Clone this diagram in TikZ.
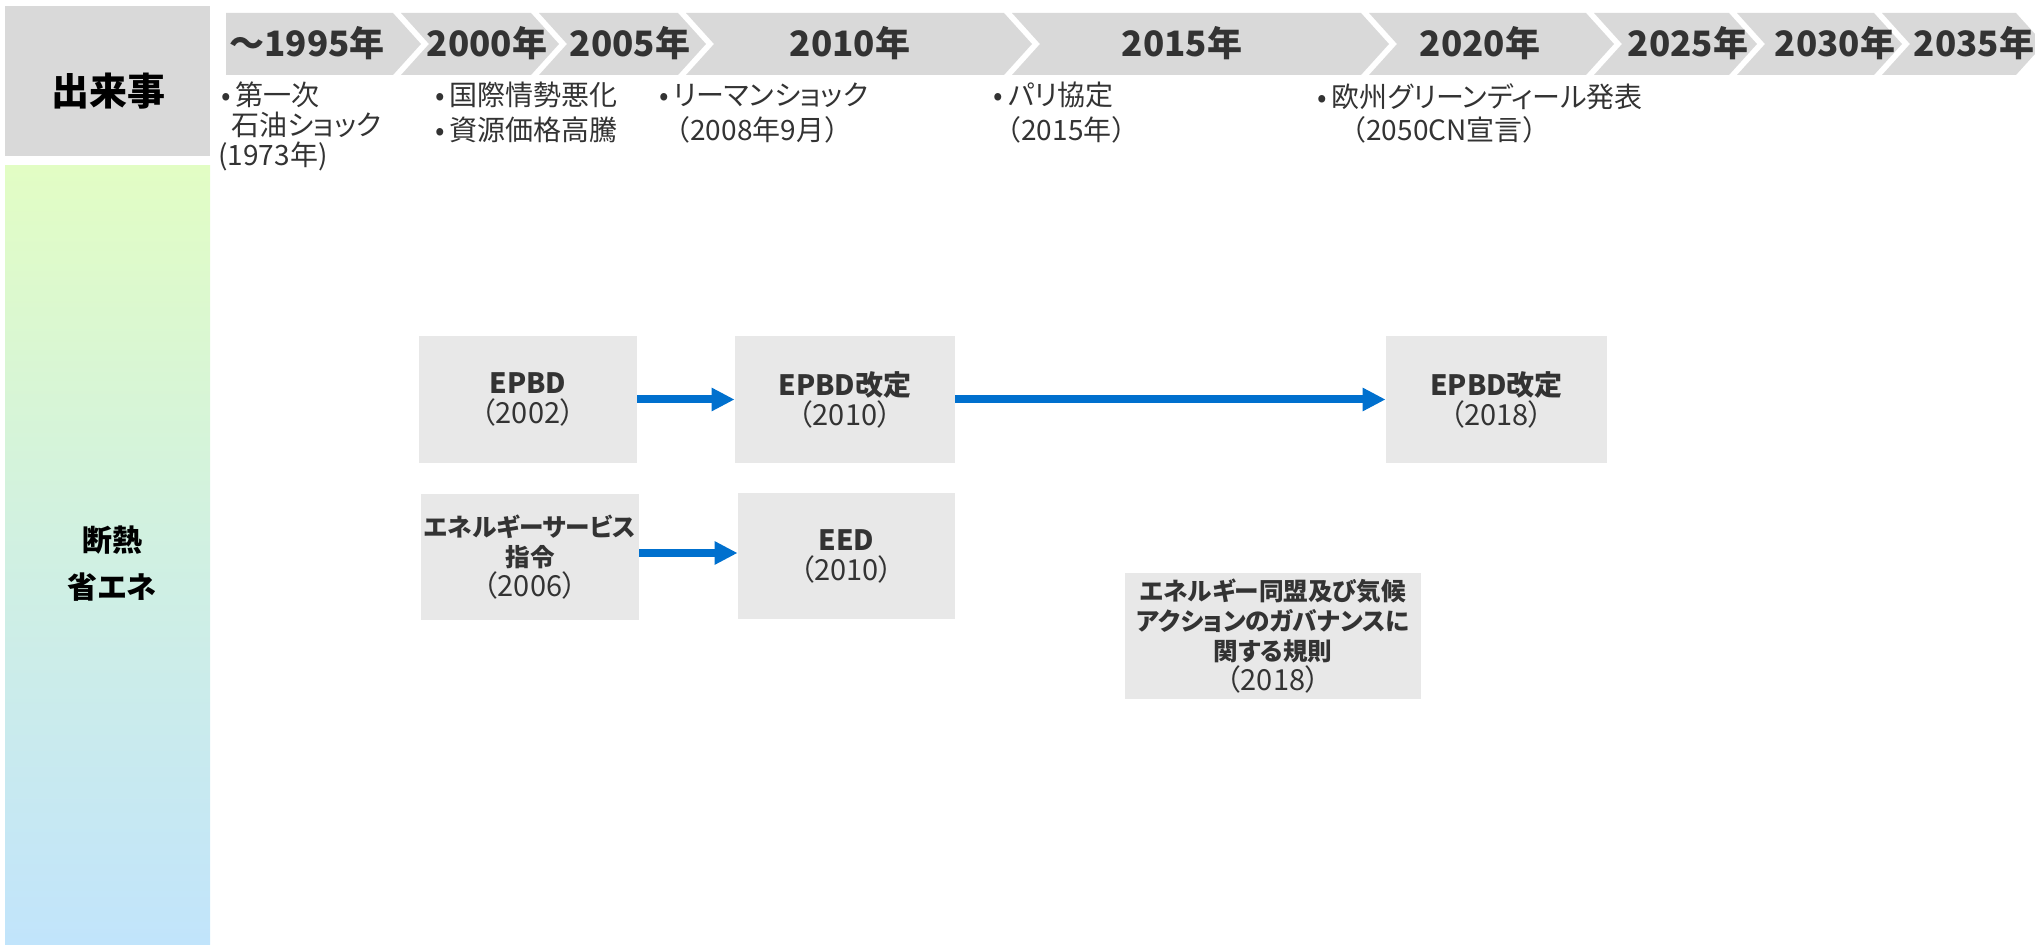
\documentclass[tikz,border=0pt]{standalone}
\usepackage{fontspec}
\setmainfont{Noto Sans CJK JP}[RawFeature={+palt}]
\newfontfamily\fwfont{Noto Sans CJK JP}
\usetikzlibrary{arrows.meta}
\definecolor{hdrgray}{HTML}{D9D9D9}
\definecolor{boxgray}{HTML}{E8E8E8}
\definecolor{txtgray}{HTML}{333333}
\definecolor{arrblue}{RGB}{0,112,206}
\definecolor{grtop}{RGB}{226,253,196}
\definecolor{grmid}{RGB}{208,240,226}
\definecolor{grbot}{RGB}{193,228,251}
\newcommand{\chevseg}[2]{\fill[hdrgray] (#1,13) -- (#2,13) -- ({#2+28},44) -- (#2,75) -- (#1,75) -- ({#1+28},44) -- cycle;}
\newcommand{\bul}{•\hspace{2.5pt}}
\newcommand{\lat}[1]{{\fontsize{14}{15}\selectfont\bfseries #1}}
\newcommand{\kan}[1]{{\fontsize{12.3}{15}\selectfont\bfseries #1}}
\newcommand{\yr}[1]{{\fontsize{14.5}{15}\selectfont #1}}
\begin{document}
\begin{tikzpicture}[x=0.5pt,y=-0.5pt,
  yearlbl/.style={inner sep=0pt, anchor=base, text=txtgray, font=\fontsize{17.5}{20}\selectfont\bfseries},
  evtxt/.style={inner sep=0pt, anchor=base west, text=txtgray, font=\fontsize{14}{16}\selectfont},
  evbox/.style={fill=boxgray, inner sep=0pt, align=center, text=txtgray, font=\fontsize{13}{15}\selectfont},
  flowarrow/.style={draw=arrblue, line width=4pt, -{Triangle[length=11.5pt,width=11pt]}, arrblue}
]
\useasboundingbox (0,0) rectangle (2035,945);
\clip (0,0) rectangle (2035,945);

% left column
\fill[hdrgray] (5,6) rectangle (210,156);
\node[inner sep=0pt, font=\fontsize{19}{22}\selectfont\bfseries] (title) at (108,91) {出来事};
\shade[top color=grtop, bottom color=grbot, middle color=grmid] (5,166) rectangle (210,945);
\node[inner sep=0pt, font=\fontsize{15}{18}\selectfont\bfseries] (cat1) at (112,540) {断熱};
\node[inner sep=0pt, font=\fontsize{15}{18}\selectfont\bfseries] (cat2) at (112,587) {省エネ};

% timeline chevrons
\fill[hdrgray] (226,13) -- (393,13) -- (421,44) -- (393,75) -- (226,75) -- cycle;
\chevseg{401}{531}
\chevseg{539}{678}
\chevseg{686}{1004}
\chevseg{1012}{1361}
\chevseg{1369}{1586}
\chevseg{1594}{1729}
\chevseg{1737}{1874}
\chevseg{1882}{2016}

\node[yearlbl] (y1995) at (307,57) {～1995年};
\node[yearlbl] (y2000) at (487,57) {2000年};
\node[yearlbl] (y2005) at (630,57) {2005年};
\node[yearlbl] (y2010) at (850,57) {2010年};
\node[yearlbl] (y2015) at (1182,57) {2015年};
\node[yearlbl] (y2020) at (1480,57) {2020年};
\node[yearlbl] (y2025) at (1688,57) {2025年};
\node[yearlbl] (y2030) at (1835,57) {2030年};
\node[yearlbl] (y2035) at (1974,57) {2035年};

% events
\node[evtxt] (e1a) at (221,106) {\bul 第一次};
\node[evtxt] (e1b) at (231,136) {石油ショック};
\node[evtxt] (e1c) at (218,166) {(1973年)};
\node[evtxt] (e2a) at (435,106) {\bul 国際情勢悪化};
\node[evtxt] (e2b) at (435,141) {\bul 資源価格高騰};
\node[evtxt] (e3a) at (659,106) {\bul リーマンショック};
\node[evtxt] (e3b) at (662,141) {{\fwfont （}2008年9月{\fwfont ）}};
\node[evtxt] (e4a) at (993,106) {\bul パリ協定};
\node[evtxt] (e4b) at (993,141) {{\fwfont （}2015年{\fwfont ）}};
\node[evtxt] (e5a) at (1317,108) {\bul 欧州グリーンディール発表};
\node[evtxt] (e5b) at (1338,141) {{\fwfont （}2050CN宣言{\fwfont ）}};

% boxes
\node[evbox, minimum width=109pt, minimum height=63.5pt] (epbd) at (528,399.5) {\lat{EPBD}\\\yr{（2002）}};
\node[evbox, minimum width=110pt, minimum height=63.5pt] (epbd10) at (845,399.5) {\lat{EPBD改定}\\\yr{（2010）}};
\node[evbox, minimum width=110.5pt, minimum height=63.5pt] (epbd18) at (1496.5,399.5) {\lat{EPBD改定}\\\yr{（2018）}};
\node[evbox, minimum width=109pt, minimum height=63pt] (esd) at (530,557) {\kan{エネルギーサービス}\\\kan{指令}\\\yr{（2006）}};
\node[evbox, minimum width=108.5pt, minimum height=63pt] (eed) at (846.5,556) {\lat{EED}\\\yr{（2010）}};
\node[evbox, minimum width=148pt, minimum height=63pt] (gov) at (1273,636) {\kan{エネルギー同盟及び気候}\\\kan{アクションのガバナンスに}\\\kan{関する規則}\\\yr{（2018）}};

% arrows
\draw[flowarrow] (epbd.east) -- (epbd10.west);
\draw[flowarrow] (epbd10.east) -- (epbd18.west);
\draw[flowarrow] ([yshift=2pt]esd.east) -- ([yshift=2pt]eed.west |- esd.east);
\end{tikzpicture}
\end{document}
